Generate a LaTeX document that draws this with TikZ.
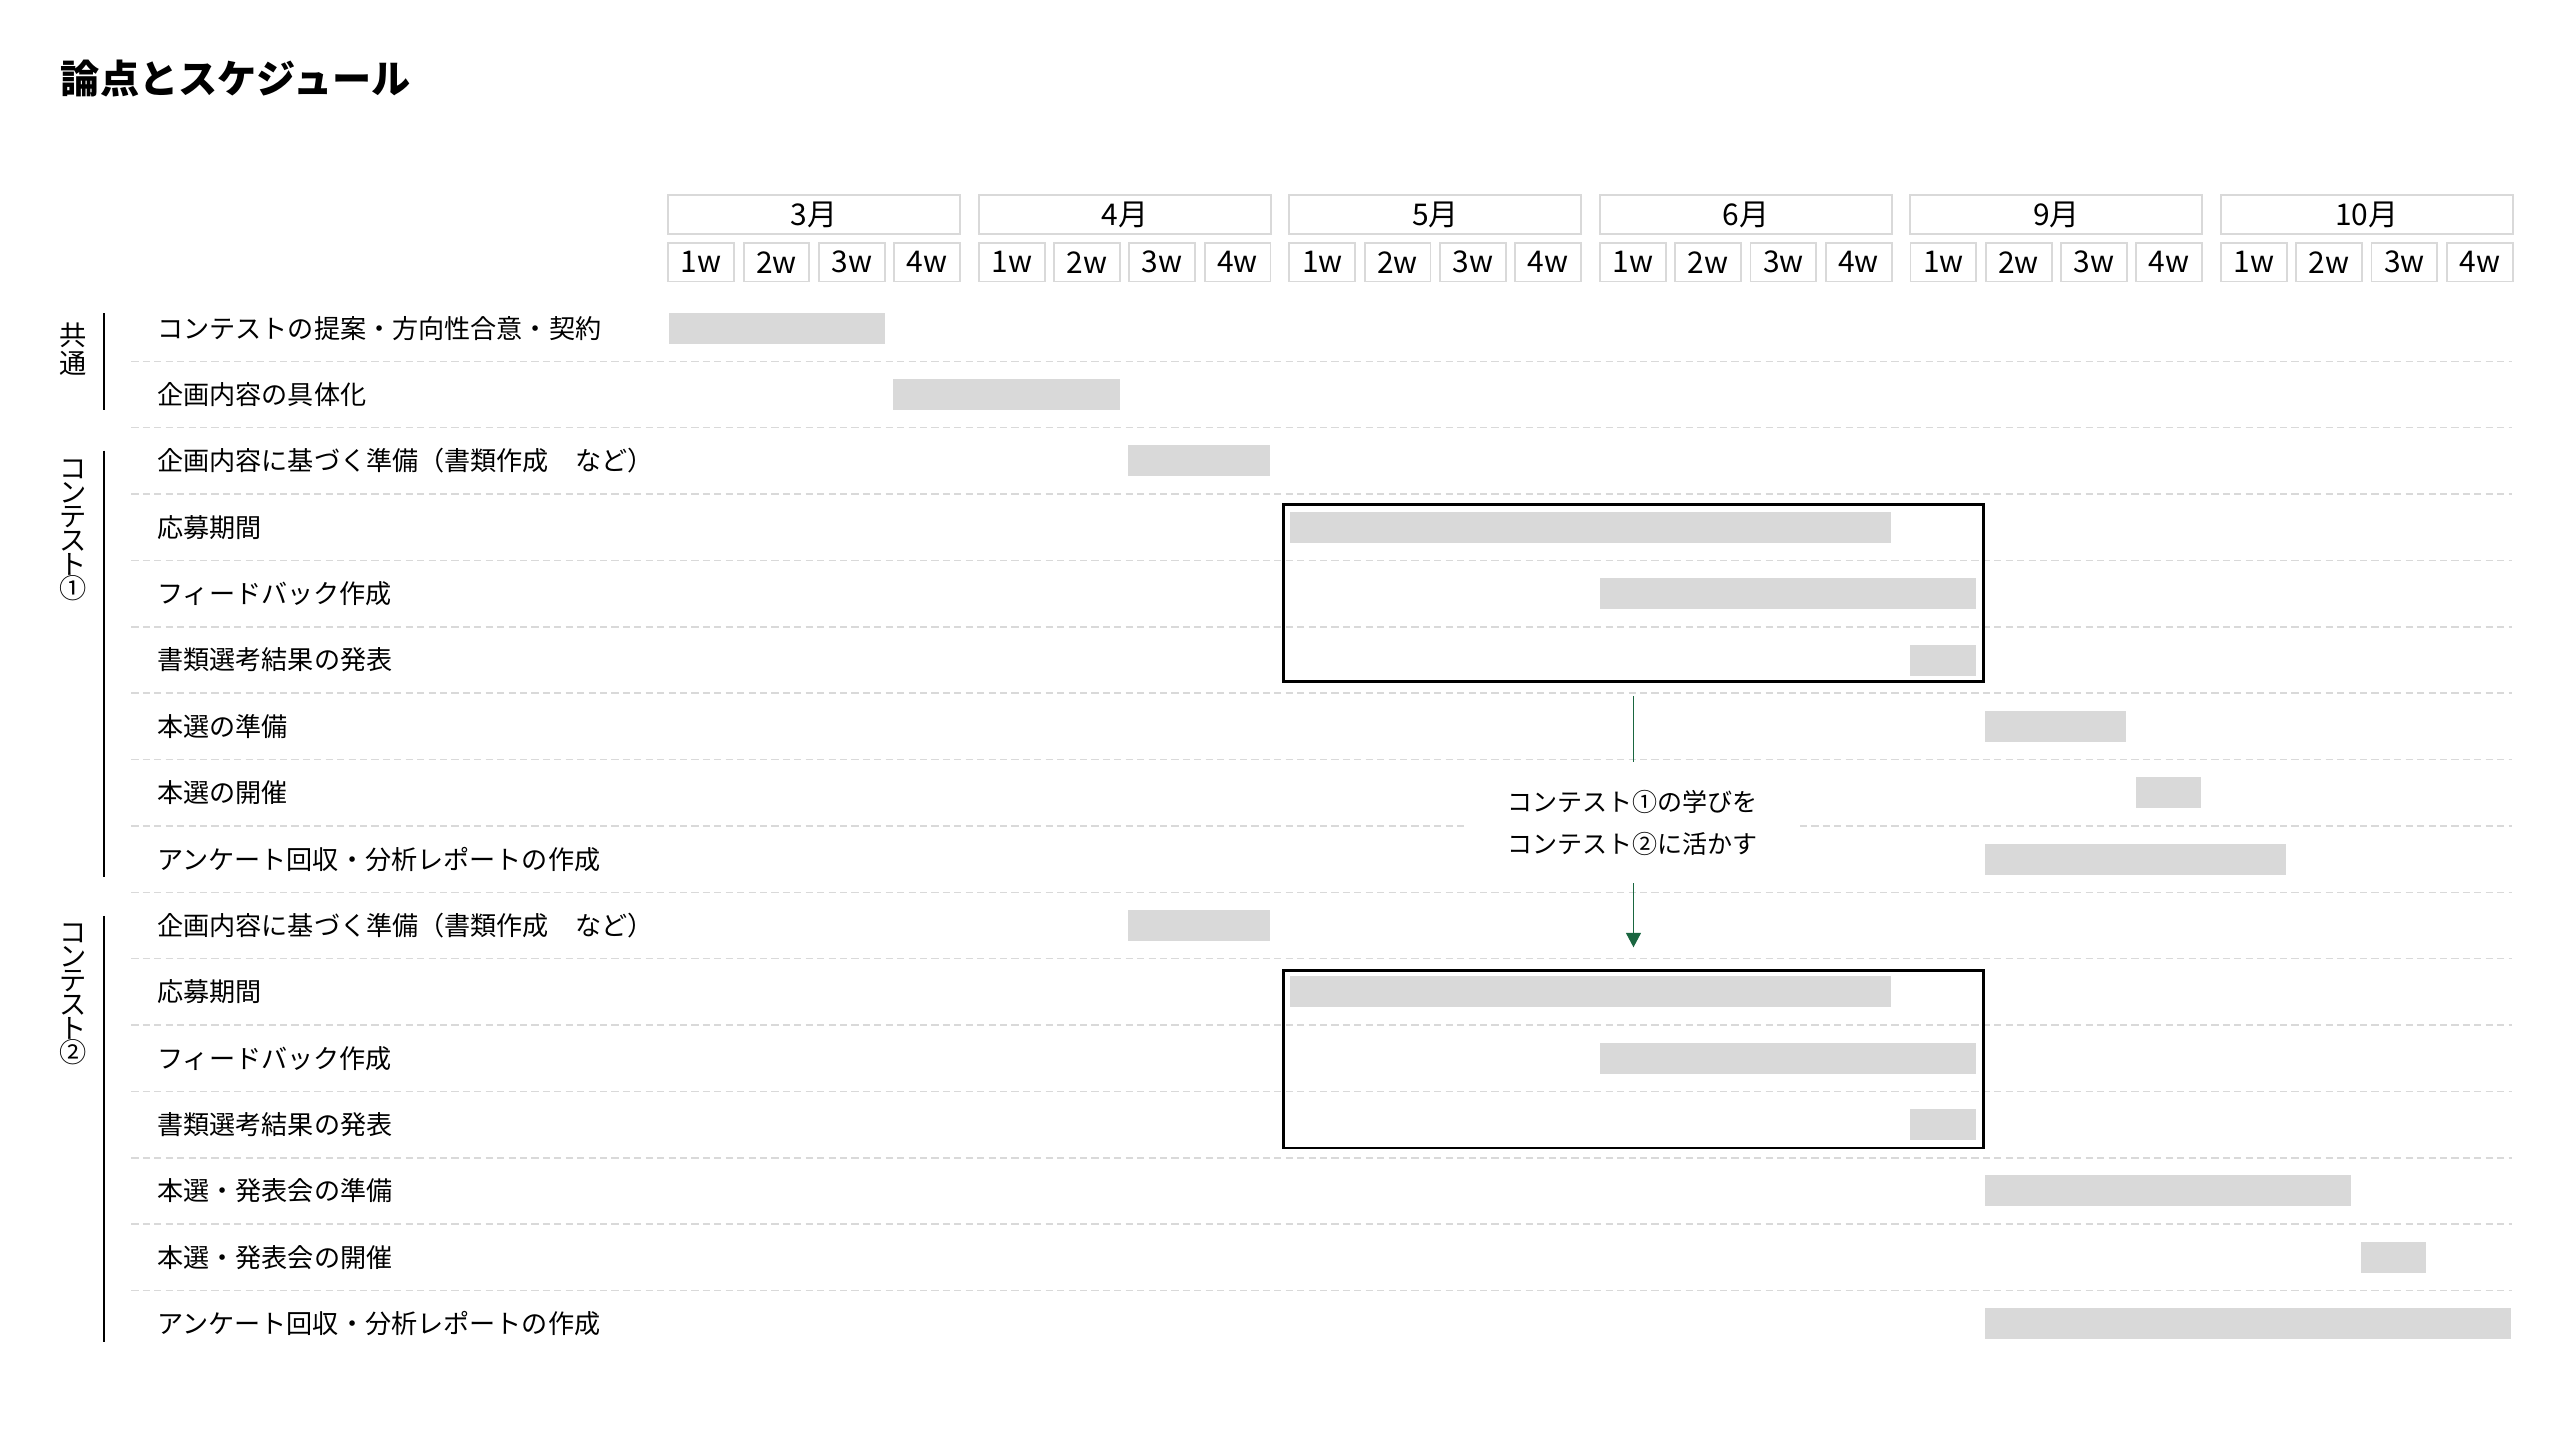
\documentclass[tikz,border=0pt]{standalone}
\usepackage{fontspec}
\setmainfont{Noto Sans CJK JP}
\usetikzlibrary{fit,arrows.meta}
\definecolor{barg}{HTML}{D9D9D9}
\definecolor{lineg}{HTML}{D9D9D9}
\definecolor{arrowg}{RGB}{26,102,64}
\tikzset{
  hdr/.style={draw=lineg, line width=0.7pt, fill=white, inner sep=0pt, font=\fontsize{11pt}{12pt}\selectfont},
  monthbox/.style={hdr, minimum width=107.3pt, minimum height=14.3pt},
  weekbox/.style={hdr, minimum width=24.2pt, minimum height=14.2pt},
  rowlabel/.style={anchor=west, inner sep=0pt, font=\fontsize{9.6pt}{11pt}\selectfont},
  ganttbar/.style={fill=barg},
  sepline/.style={draw=lineg, line width=0.55pt, dash pattern=on 2.6pt off 1.6pt},
  framebox/.style={draw=black, line width=0.9pt, inner sep=0pt},
  grpline/.style={draw=black, line width=0.7pt},
  garrow/.style={draw=arrowg, line width=0.7pt, -{Triangle[width=5.4pt,length=5.3pt]}},
  notebox/.style={fill=white, align=center, minimum width=121pt, minimum height=44.4pt, inner sep=0pt, font=\fontsize{9.2pt}{15.4pt}\selectfont},
  glabel/.style={align=center, inner sep=0pt},
}
\begin{document}
\begin{tikzpicture}[x=0.6pt,y=-0.6pt]
\useasboundingbox (0,0) rectangle (1568,882);
% title
\node[anchor=west, inner sep=0pt, font=\fontsize{14.4pt}{16pt}\selectfont\bfseries] (title) at (37,48) {論点とスケジュール};
% header
\foreach \m [count=\i from 0] in {3月,4月,5月,6月,9月,10月} {
  \pgfmathsetmacro\mx{409.3+190.2*\i}
  \node[monthbox] (m\i) at (\mx+89.4,131.4) {\m};
  \foreach \w in {0,...,3} {
    \pgfmathsetmacro\wx{\mx+46.1*\w+20.2}
    \pgfmathtruncatemacro\wn{\w+1}
    \node[weekbox] (w\i-\w) at (\wx,160.6) {\wn w};
  }
}
% separators
\foreach \k in {1,...,15} {
  \pgfmathsetmacro\sy{201+40.65*(\k-0.5)}
  \draw[sepline] (80.5,\sy) -- (1538.5,\sy);
}
% bars
\foreach \xa/\xb/\r in {410/542/1, 547/686/2, 691/778/3, 790/1158/4, 980/1210/5, 1170/1210/6, 1216/1302/7, 1308/1348/8, 1216/1400/9, 691/778/10, 790/1158/11, 980/1210/12, 1170/1210/13, 1216/1440/14, 1446/1486/15, 1216/1538/16} {
  \pgfmathsetmacro\ry{201+40.65*(\r-1)}
  \fill[ganttbar] (\xa,\ry-9.5) rectangle (\xb,\ry+9.5);
}
% row labels
\foreach \t [count=\r] in {コンテストの提案・方向性合意・契約, 企画内容の具体化, 企画内容に基づく準備（書類作成　など）, 応募期間, フィードバック作成, 書類選考結果の発表, 本選の準備, 本選の開催, アンケート回収・分析レポートの作成, 企画内容に基づく準備（書類作成　など）, 応募期間, フィードバック作成, 書類選考結果の発表, 本選・発表会の準備, 本選・発表会の開催, アンケート回収・分析レポートの作成} {
  \pgfmathsetmacro\ry{201+40.65*(\r-1)}
  \node[rowlabel] (r\r) at (96,\ry) {\t};
}
% group labels
\node[glabel, font=\fontsize{10pt}{10.2pt}\selectfont] (g0) at (45,214) {共\\通};
\node[glabel, font=\fontsize{10pt}{8.8pt}\selectfont] (g1) at (45,325) {コ\\ン\\テ\\ス\\ト\\①};
\node[glabel, font=\fontsize{10pt}{8.8pt}\selectfont] (g2) at (45,609) {コ\\ン\\テ\\ス\\ト\\②};
\draw[grpline] (63.5,192) -- (63.5,251);
\draw[grpline] (63.5,276) -- (63.5,537);
\draw[grpline] (63.5,561) -- (63.5,822);
% frames
\node[framebox, fit={(786,309) (1215,417.5)}] (f1) {};
\node[framebox, fit={(786,594.5) (1215,703)}] (f2) {};
% arrow and note
\draw[garrow, shorten <=4.9pt, shorten >=8.1pt] (f1.south) -- (f2.north);
\node[notebox] (note) at (1000,504) {コンテスト①の学びを\\コンテスト②に活かす};
\end{tikzpicture}
\end{document}
